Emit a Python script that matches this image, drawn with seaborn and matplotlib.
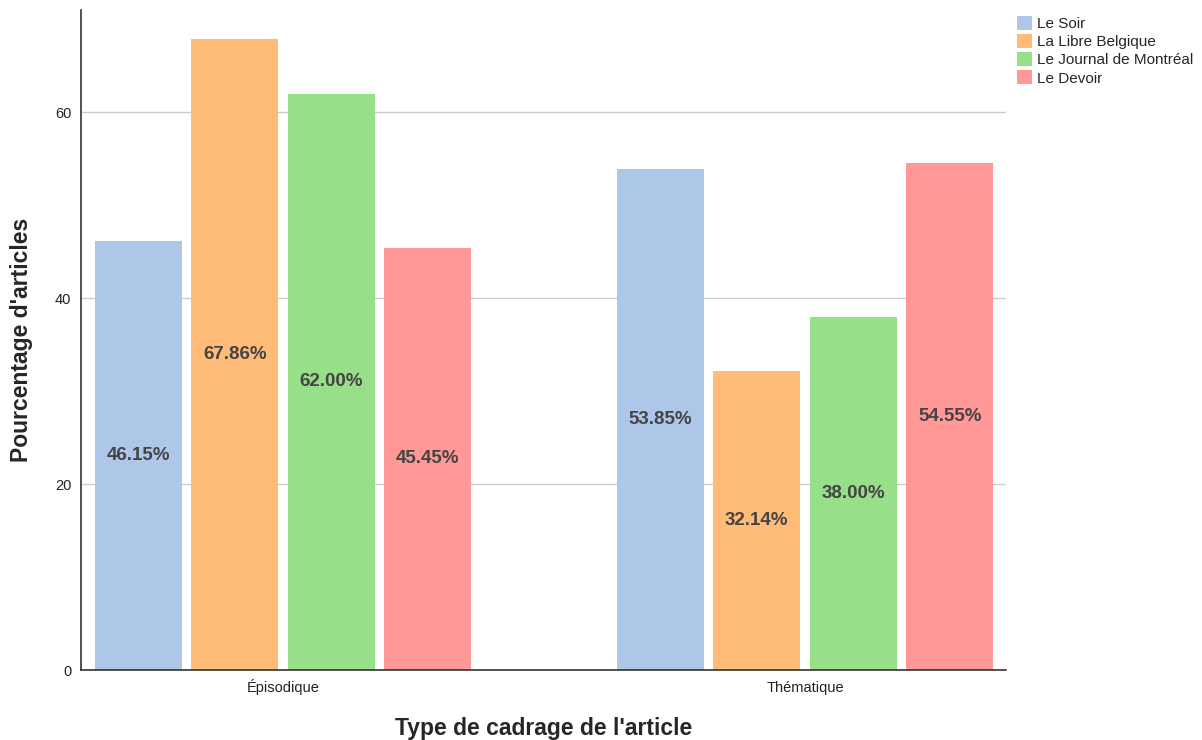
import matplotlib
matplotlib.use("Agg")
import matplotlib.pyplot as plt
import seaborn as sns
import pandas as pd

categories = ["Épisodique", "Thématique"]
journaux = ["Le Soir", "La Libre Belgique", "Le Journal de Montréal", "Le Devoir"]
le_soir = [46.15, 53.85]
la_libre = [67.86, 32.14]
journal_mtl = [62.00, 38.00]
le_devoir = [45.45, 54.55]
colors = ["#aec7e8", "#ffbb78", "#98df8a", "#ff9896"]

rows = []
for j, vals in zip(journaux, [le_soir, la_libre, journal_mtl, le_devoir]):
    for c, v in zip(categories, vals):
        rows.append({"cadrage": c, "journal": j, "pct": v})
df = pd.DataFrame(rows)

sns.set_theme(style="white")
plt.rcParams["font.family"] = ["Liberation Sans", "DejaVu Sans"]

fig = plt.figure(figsize=(12.02, 7.4), dpi=100)
ax = fig.add_axes([81 / 1202, 70 / 740, 925 / 1202, 660 / 740])

sns.barplot(data=df, x="cadrage", y="pct", hue="journal", order=categories,
            hue_order=journaux, palette=colors, width=0.74, gap=0.1,
            saturation=1, linewidth=0, ax=ax, legend=True)

for cont in ax.containers:
    for bar in cont:
        h = bar.get_height()
        ax.text(bar.get_x() + bar.get_width() / 2, h / 2, f"{h:.2f}%",
                ha="center", va="center", fontsize=13.5, fontweight="bold",
                color="#444444")

ax.set_ylim(0, 71)
ax.set_xlim(-0.387, 1.385)
ax.set_yticks([0, 20, 40, 60])
ax.yaxis.grid(True, color="#cccccc", linewidth=1)
ax.set_axisbelow(True)
for s in ["top", "right"]:
    ax.spines[s].set_visible(False)
for s in ["left", "bottom"]:
    ax.spines[s].set_color("#333333")
    ax.spines[s].set_linewidth(1.2)
ax.tick_params(axis="both", labelsize=10.5, colors="#222222", length=0)
ax.tick_params(axis="y", pad=7)
ax.tick_params(axis="x", pad=16)
for lbl in ax.get_xticklabels():
    lbl.set_va("baseline")
ax.set_ylabel("Pourcentage d'articles", fontsize=16.5, fontweight="bold", va="center")
ax.yaxis.set_label_coords(-0.064, 0.5)
ax.set_xlabel("Type de cadrage de l'article", fontsize=16.5, fontweight="bold", va="center")
ax.xaxis.set_label_coords(0.5, -0.088)

leg = ax.legend(loc="upper left", bbox_to_anchor=(1.005, 1.0), frameon=False,
                fontsize=11, handlelength=1.0, handleheight=1.0,
                handletextpad=0.3, labelspacing=0.2, borderaxespad=0)

fig.savefig("out.png", dpi=100)
